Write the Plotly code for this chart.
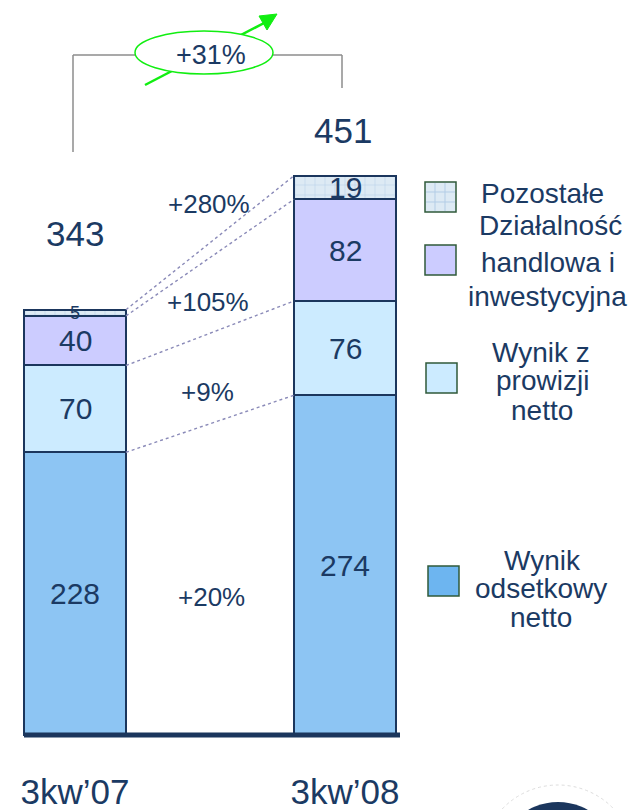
import numpy as np
import plotly.graph_objects as go

# ---------------- data ----------------
categories = ["3kw’07", "3kw’08"]
series_names = ["Wynik odsetkowy netto", "Wynik z prowizji netto",
                "Działalność handlowa i inwestycyjna", "Pozostałe"]
odsetkowy = [228, 274]
prowizji = [70, 76]
handlowa = [40, 82]
pozostale = [5, 19]
totals = [343, 451]
growth_labels = ["+20%", "+9%", "+105%", "+280%"]
total_growth = "+31%"

# ---------------- style ----------------
W, H = 634, 810
MB = 70                      # bottom margin
PH = H - MB                  # plot area height in px
S = 1.24                     # px per unit
BASE_PX = 735
TXT = "#1B3A63"
NAVY = "#1B365D"
FONT = "Liberation Sans, Arial, sans-serif"
col_ods = "#8DC5F3"
col_pro = "#CCEBFF"
col_han = "#CCCCFF"
col_poz = "#DDEAF4"
grid_poz = "#B3CDE6"
BW = 102 / 270

def fx(x):
    return x / W

def fy(y):
    return (PH - y) / PH

def txt(text, x, y, size, xref="paper", yref="paper"):
    return dict(x=x, y=y, xref=xref, yref=yref, text=text, showarrow=False,
                xanchor="center", yanchor="middle",
                font=dict(size=size, color=TXT, family=FONT))

xs = [0, 1]
series = [odsetkowy, prowizji, handlowa, pozostale]
colors = [col_ods, col_pro, col_han, col_poz]

fig = go.Figure()
for name, vals, c in zip(series_names, series, colors):
    marker = dict(color=c, line=dict(color=NAVY, width=2.5))
    if name == "Pozostałe":
        marker["pattern"] = dict(shape="+", size=10, solidity=0.1,
                                 fgcolor=grid_poz, bgcolor=col_poz,
                                 fillmode="replace")
    fig.add_trace(go.Bar(x=xs, y=vals, width=BW, name=name, marker=marker,
                         hoverinfo="skip", showlegend=False))

# connector dotted lines between cumulative boundaries
cum = np.cumsum(np.array(series), axis=0)
for k in range(cum.shape[0]):
    fig.add_trace(go.Scatter(x=[xs[0] + BW / 2, xs[1] - BW / 2],
                             y=[cum[k][0], cum[k][1]], mode="lines",
                             line=dict(color="#8A8AB8", width=1.4, dash="dot"),
                             hoverinfo="skip", showlegend=False))

annotations = []
# segment labels
bottoms = np.vstack([np.zeros(2), cum[:-1]])
for k, vals in enumerate(series):
    for i in range(2):
        mid = bottoms[k][i] + vals[i] / 2
        size = 18 if vals[i] < 10 else 30
        annotations.append(txt(str(vals[i]), xs[i], mid, size, "x", "y"))

# totals
for i, (tx, ty) in enumerate([(75, 233), (343, 130)]):
    annotations.append(txt(str(totals[i]), fx(tx), fy(ty), 35))

# growth labels
for lab, (tx, ty) in zip(growth_labels, [(211, 597), (207, 392), (208, 302), (209, 204)]):
    annotations.append(txt(lab, fx(tx), fy(ty), 26))

# total growth
annotations.append(txt(total_growth, fx(211), fy(55), 27))

# legend texts
legend_lines = [
    ("Pozostałe", 542, 193),
    ("Działalność", 550, 225), ("handlowa i", 548, 262), ("inwestycyjna", 547, 296),
    ("Wynik z", 541, 352), ("prowizji", 542, 381), ("netto", 542, 410),
    ("Wynik", 542, 560), ("odsetkowy", 541, 588), ("netto", 541, 617),
]
for t, tx, ty in legend_lines:
    annotations.append(txt(t, fx(tx), fy(ty), 28))

shapes = []
def pshape(**kw):
    d = dict(xref="paper", yref="paper")
    d.update(kw)
    shapes.append(d)

# legend squares
leg_sq = [(425, 182, col_poz), (425, 245, col_han), (426, 363, col_pro), (428, 566, "#6DB5F0")]
for (x0, y0, c) in leg_sq:
    pshape(type="rect", x0=fx(x0), x1=fx(x0 + 31), y0=fy(y0), y1=fy(y0 + 30),
           fillcolor=c, line=dict(color="#2F5A3A", width=1.5))
# grid on Pozostałe legend square
for d in (10, 20):
    pshape(type="line", x0=fx(425 + d), x1=fx(425 + d), y0=fy(183), y1=fy(211),
           line=dict(color=grid_poz, width=1))
    pshape(type="line", x0=fx(426), x1=fx(455), y0=fy(182 + d), y1=fy(182 + d),
           line=dict(color=grid_poz, width=1))

# baseline
shapes.append(dict(type="line", xref="x", yref="y",
                   x0=xs[0] - BW / 2, x1=(400 - 75) / 270, y0=0, y1=0,
                   line=dict(color=NAVY, width=5)))

# bracket
GR = "#8C8C8C"
pshape(type="line", x0=fx(73), x1=fx(73), y0=fy(55), y1=fy(152), line=dict(color=GR, width=1.5))
pshape(type="line", x0=fx(73), x1=fx(140), y0=fy(55), y1=fy(55), line=dict(color=GR, width=1.5))
pshape(type="line", x0=fx(270), x1=fx(342), y0=fy(55), y1=fy(55), line=dict(color=GR, width=1.5))
pshape(type="line", x0=fx(342), x1=fx(342), y0=fy(55), y1=fy(88), line=dict(color=GR, width=1.5))

# green arrow (behind ellipse)
GREEN = "#11EE11"
pshape(type="line", x0=fx(145), x1=fx(266), y0=fy(85), y1=fy(22), line=dict(color=GREEN, width=2.5))
pshape(type="path",
       path=f"M {fx(259)},{fy(16)} L {fx(277)},{fy(14)} L {fx(267)},{fy(30)} Z",
       fillcolor=GREEN, line=dict(color=GREEN, width=1))
# ellipse
pshape(type="circle", x0=fx(135), x1=fx(273), y0=fy(31), y1=fy(74),
       fillcolor="white", line=dict(color=GREEN, width=1.5))

# partial logo bottom right
pshape(type="circle", x0=fx(481), x1=fx(635), y0=fy(785), y1=fy(939),
       fillcolor="rgba(0,0,0,0)", line=dict(color="#DDDDDD", width=1, dash="dot"))
pshape(type="circle", x0=fx(498), x1=fx(618), y0=fy(802), y1=fy(922),
       fillcolor=NAVY, line=dict(color=NAVY, width=0))

fig.update_layout(
    width=W, height=H,
    margin=dict(l=0, r=0, t=0, b=MB, pad=0, autoexpand=False),
    paper_bgcolor="white", plot_bgcolor="white",
    barmode="stack", bargap=0,
    showlegend=False,
    xaxis=dict(range=[-75 / 270, (W - 75) / 270], tickvals=xs, ticktext=categories,
               tickfont=dict(size=35, color=TXT, family=FONT),
               ticks="outside", ticklen=21, tickcolor="rgba(0,0,0,0)",
               automargin=False,
               showgrid=False, zeroline=False, showline=False, fixedrange=True),
    yaxis=dict(range=[-(PH - BASE_PX) / S, BASE_PX / S], visible=False,
               automargin=False,
               showgrid=False, zeroline=False, fixedrange=True),
    annotations=annotations,
    shapes=shapes,
    font=dict(family=FONT, color=TXT),
)

fig.write_html("out.html", config={"displayModeBar": False},
               post_script="document.body.style.margin='0';document.body.style.padding='0';")
